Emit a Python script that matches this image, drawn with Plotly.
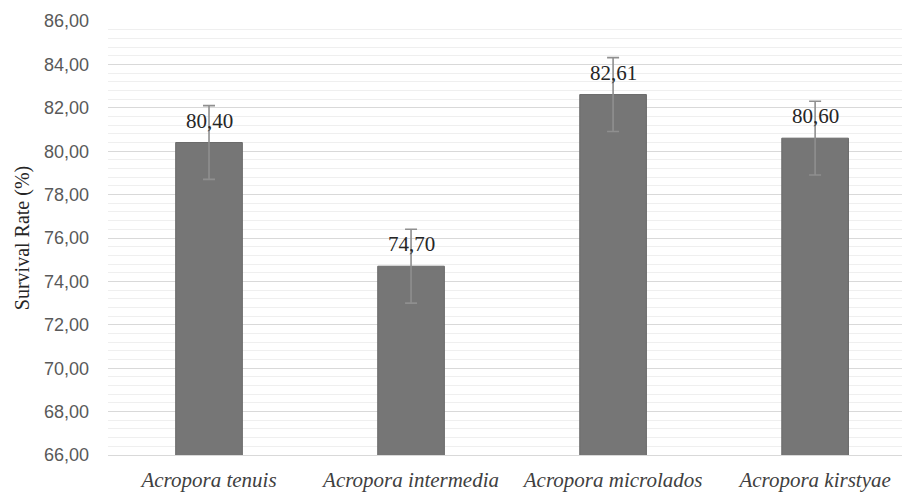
import plotly.graph_objects as go

categories = ["Acropora tenuis", "Acropora intermedia", "Acropora microlados", "Acropora kirstyae"]
survival = [80.40, 74.70, 82.61, 80.60]
errors = [1.7, 1.7, 1.7, 1.7]
value_labels = [f"{v:.2f}".replace(".", ",") for v in survival]

fig = go.Figure()
fig.add_trace(go.Bar(
    x=categories,
    y=survival,
    width=0.33,
    marker=dict(color="#767676", line=dict(color="#6a6a6a", width=1)),
    error_y=dict(type="data", array=errors, visible=True, color="#8f8f8f", thickness=1.6, width=6),
    hoverinfo="skip",
))

for c, v, t in zip(categories, survival, value_labels):
    fig.add_annotation(
        x=c, y=v, text=t, showarrow=False, yanchor="bottom", yshift=8,
        font=dict(family="Liberation Serif", size=21, color="#262626"),
    )

fig.update_layout(
    width=904, height=492,
    margin=dict(l=108, r=2, t=21, b=37),
    plot_bgcolor="white", paper_bgcolor="white",
    separators=",.",
    showlegend=False,
    xaxis=dict(
        automargin=False,
        range=[-0.5, 3.43],
        tickfont=dict(family="Liberation Serif", size=21, color="#404040"),
        tickprefix="<i>", ticksuffix="</i>",
        ticklabelstandoff=6,
        showline=True, linecolor="#d9d9d9", linewidth=1,
        ticks="", showgrid=False,
    ),
    yaxis=dict(
        automargin=False,
        range=[66, 86], tick0=66, dtick=2, tickformat=".2f",
        tickfont=dict(family="Liberation Sans", size=18, color="#595959"),
        ticklabelstandoff=18,
        gridcolor="#d9d9d9", gridwidth=1,
        zeroline=False,
        showline=False,
        ticks="", ticklen=0,
        minor=dict(dtick=0.4, tick0=66, showgrid=True, gridcolor="#efefef", gridwidth=1),
        title=dict(text="Survival Rate (%)", font=dict(family="Liberation Serif", size=20, color="#262626"), standoff=8),
    ),
)

fig.write_html("out.html", config={"displayModeBar": False})

with open("out.html", "r", encoding="utf-8") as f:
    html = f.read()
html = html.replace("<head>", "<head><style>html,body{margin:0;padding:0;overflow:hidden}</style>", 1)
with open("out.html", "w", encoding="utf-8") as f:
    f.write(html)
